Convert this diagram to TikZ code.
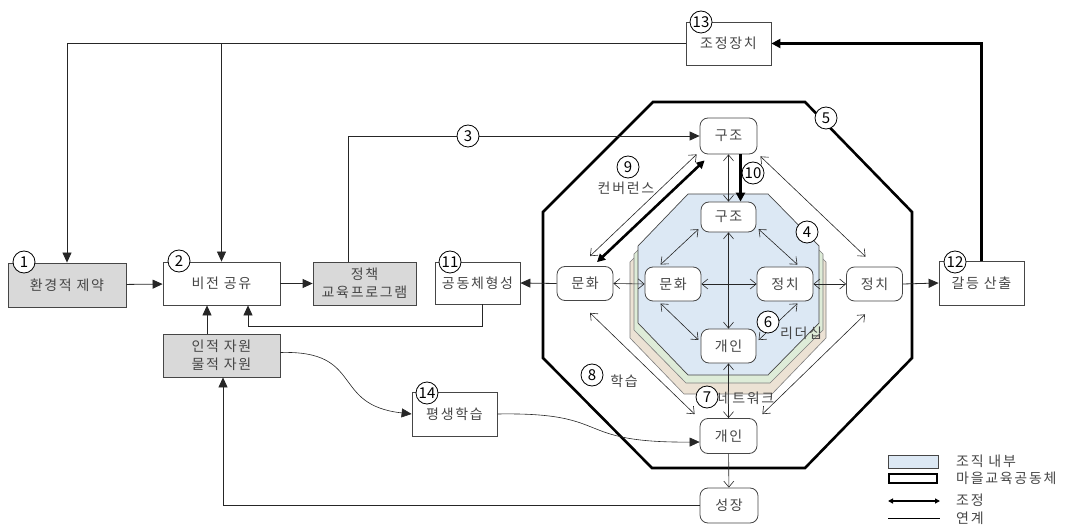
\documentclass[tikz,border=0pt]{standalone}
\usepackage{fontspec}
\newfontfamily\kr[LetterSpace=12]{Noto Sans CJK KR}
\newfontfamily\krn{Noto Sans CJK KR}
\usetikzlibrary{arrows.meta,calc}
\definecolor{txt}{RGB}{70,70,70}
\definecolor{gfill}{RGB}{217,217,217}
\definecolor{bluef}{RGB}{220,232,244}
\definecolor{greenf}{RGB}{222,236,216}
\definecolor{beigef}{RGB}{236,226,212}
\definecolor{edge}{RGB}{70,70,70}
\begin{document}
\begin{tikzpicture}[x=1pt,y=-1pt,
  font=\kr\fontsize{14}{18}\selectfont,
  box/.style={draw=edge, line width=0.8pt, fill=white, text=txt, align=center, inner sep=0pt},
  gbox/.style={box, fill=gfill},
  rbox/.style={box, rounded corners=8pt, minimum width=56, minimum height=34},
  num/.style={circle, draw=black, fill=white, line width=0.8pt, minimum size=22, inner sep=0pt, font=\krn\fontsize{15}{15}\selectfont},
  lbl/.style={text=txt, inner sep=1pt},
  ar/.style={-{Triangle[length=10pt,width=9pt]}, line width=0.8pt, draw=black!85},
  dbl/.style={{Straight Barb[length=6pt,width=10pt]}-{Straight Barb[length=6pt,width=10pt]}, line width=0.6pt, draw=black!85},
  sar/.style={-{Straight Barb[length=6pt,width=10pt]}, line width=0.6pt, draw=black!85},
  thk/.style={line width=2.6pt, draw=black},
  thkar/.style={thk, -{Triangle[length=9pt,width=9pt]}},
  thkdbl/.style={thk, {Triangle[length=8pt,width=8pt]}-{Triangle[length=8pt,width=8pt]}}
]
\useasboundingbox (0,0) rectangle (1067,526);

% octagons
\draw[thk, line join=miter] (543,212) -- (653,102) -- (805,102) -- (912,212) -- (912,358) -- (805,468) -- (652,468) -- (543,358) -- cycle;
\draw[draw=edge!70, line width=0.6pt, fill=beigef] (630,262) -- (684,208) -- (772,208) -- (826,262) -- (826,338) -- (772,394) -- (684,394) -- (630,338) -- cycle;
\draw[draw=edge!70, line width=0.6pt, fill=greenf] (634,254) -- (686,201) -- (770,201) -- (823,254) -- (823,330) -- (770,383) -- (686,383) -- (634,330) -- cycle;
\draw[draw=edge, line width=0.7pt, fill=bluef] (638,246) -- (688,194) -- (768,194) -- (819,246) -- (819,323) -- (768,375) -- (688,375) -- (638,323) -- cycle;

% boxes
\node[gbox, minimum width=118, minimum height=44] (env) at (67,285) {환경적 제약};
\node[box, minimum width=117, minimum height=43] (vis) at (221.5,283.5) {비전 공유};
\node[gbox, minimum width=103, minimum height=43] (pol) at (364.5,283.5) {정책\\교육프로그램};
\node[gbox, minimum width=117, minimum height=43] (res) at (221.5,355.5) {인적 자원\\물적 자원};
\node[box, minimum width=85, minimum height=42] (com) at (477.5,283) {공동체형성};
\node[box, minimum width=85, minimum height=43] (adj) at (728.5,43.5) {조정장치};
\node[box, minimum width=85, minimum height=44] (con) at (981.5,283) {갈등 산출};
\node[box, minimum width=85, minimum height=44] (life) at (454.5,414) {평생학습};

% rounded nodes
\node[rbox, minimum width=57, minimum height=36] (oS) at (728.5,136) {구조};
\node[rbox, minimum width=55, minimum height=30] (iS) at (728.5,217) {구조};
\node[rbox] (oC) at (585,283.5) {문화};
\node[rbox] (iC) at (673,284) {문화};
\node[rbox] (iP) at (785,284) {정치};
\node[rbox] (oP) at (874.5,284) {정치};
\node[rbox, minimum width=55] (iI) at (728.5,346) {개인};
\node[rbox, minimum width=57, minimum height=35] (oI) at (728.5,436) {개인};
\node[rbox, minimum width=58, minimum height=35] (gro) at (729,505.5) {성장};

% main connectors
\draw[ar] (adj.west) -| (env.north);
\draw[ar] (adj.west -| vis.north) -- (vis.north);
\draw[thkar] (con.north) |- (adj.east);
\draw[ar] (env) -- (vis);
\draw[ar] (vis) -- (pol);
\draw[ar] ([xshift=-14.5pt]res.north) -- ([xshift=-14.5pt]vis.south);
\draw[ar] ([xshift=-16pt]pol.north) |- (oS.west);
\draw[ar] ([xshift=5pt]com.south) -- ++(0,22) -| ([xshift=26.5pt]vis.south);
\draw[ar] (oC.west) -- (com.east);
\draw[ar] (oP.east) -- (con.west);
\draw[ar, line width=0.6pt] ([yshift=3pt]res.east) .. controls (365,350) and (330,405) .. (life.west);
\draw[ar, line width=0.6pt] (life.east) .. controls (615,412) and (570,443) .. ([yshift=-6pt]oI.west);
\draw[sar] (oI) -- (gro);
\draw[ar] (gro.west) -| ([xshift=1.5pt]res.south);

% internal connectors
\draw[dbl] (oS.south) -- (iS.north);
\draw[thkar] ([xshift=12pt]oS.south) -- ([xshift=12pt]iS.north);
\draw[dbl] (iS.south) -- (iI.north);
\draw[dbl] (iI.south) -- (oI.north);
\draw[dbl] (oC.east) -- (iC.west);
\draw[dbl] (iC.east) -- (iP.west);
\draw[dbl] (iP.east) -- (oP.west);
\draw[dbl, shorten <=3pt, shorten >=3pt] (iS.200) -- (iC.130);
\draw[dbl, shorten <=3pt, shorten >=3pt] (iS.-20) -- (iP.50);
\draw[dbl, shorten <=3pt, shorten >=3pt] (iC.230) -- (iI.172);
\draw[dbl, shorten <=3pt, shorten >=3pt] (iP.-50) -- (iI.8);
\draw[dbl] ($(oS.south west)+(-3,0)$) -- ($(oC.north)+(5,-10)$);
\draw[thkdbl] ($(oS.south west)+(5,6)$) -- ($(oC.north)+(12,-4)$);
\draw[dbl] ($(oS.south east)+(3,2)$) -- ($(oP.north)+(-9,-10)$);
\draw[dbl] ($(oC.south)+(5,12)$) -- ($(oI.north west)+(-5,-4)$);
\draw[dbl] ($(oP.south)+(-9.5,13)$) -- ($(oI.north east)+(5,-4)$);

% numbers
\node[num] (n1) at (24,262) {1};
\node[num] (n2) at (179,261) {2};
\node[num] (n3) at (468,136) {3};
\node[num] (n4) at (807,232) {4};
\node[num] (n5) at (826,118) {5};
\node[num] (n6) at (768,322) {6};
\node[num] (n7) at (707,397) {7};
\node[num] (n8) at (592,375) {8};
\node[num] (n9) at (628,167) {9};
\node[num] (n10) at (753,173) {10};
\node[num] (n11) at (450,262) {11};
\node[num] (n12) at (955,262) {12};
\node[num] (n13) at (701,22) {13};
\node[num] (n14) at (427,393) {14};

% labels
\node[lbl] (l9) at (626,188) {컨버런스};
\node[lbl] (l6) at (801,333) {리더십};
\node[lbl] (l8) at (624,381) {학습};
\node[lbl] (l7) at (746,398) {네트워크};

% legend
\node[draw=edge, line width=0.7pt, fill=bluef, minimum width=50, minimum height=13, inner sep=0pt] (lg1) at (913,461.5) {};
\node[draw=black, line width=2pt, fill=white, minimum width=48, minimum height=9, inner sep=0pt] (lg2) at (913,478) {};
\coordinate (lg3a) at (888,501);
\coordinate (lg3b) at (940,501);
\coordinate (lg4a) at (888,518);
\coordinate (lg4b) at (940,518);
\draw[line width=1.6pt, {Triangle[length=5pt,width=5pt]}-{Triangle[length=5pt,width=5pt]}] (lg3a) -- (lg3b);
\draw[line width=0.7pt] (lg4a) -- (lg4b);
\node[lbl, anchor=west] (t1) at (955,461) {조직 내부};
\node[lbl, anchor=west] (t2) at (955,478) {마을교육공동체};
\node[lbl, anchor=west] (t3) at (955,500) {조정};
\node[lbl, anchor=west] (t4) at (955,518) {연계};
\end{tikzpicture}
\end{document}
